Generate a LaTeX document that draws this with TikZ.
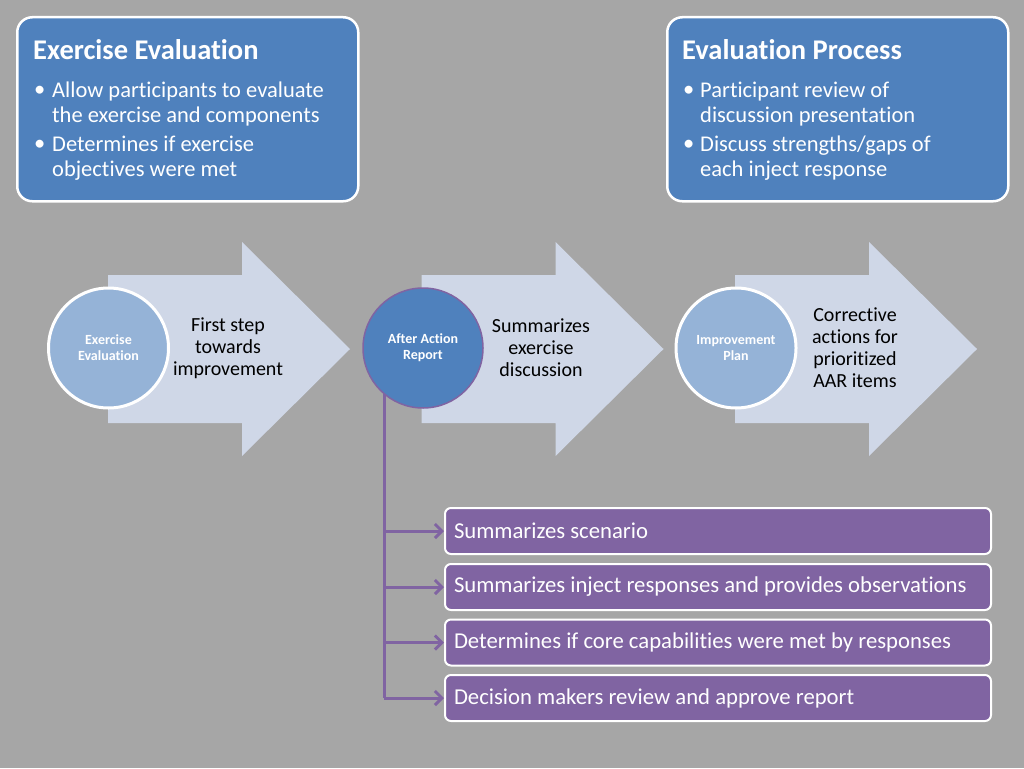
\documentclass[tikz,border=0pt]{standalone}
\usepackage{fontspec}
\setmainfont{Carlito}[Ligatures={NoCommon}]
\usetikzlibrary{shapes, arrows.meta, positioning, calc}
\definecolor{bggray}{HTML}{A6A6A6}
\definecolor{panelblue}{HTML}{4F81BD}
\definecolor{circblue}{HTML}{95B3D7}
\definecolor{arrowfill}{HTML}{CFD7E7}
\definecolor{aarpurple}{HTML}{8064A2}

\tikzset{
  panel/.style={draw=white, line width=2.5pt, fill=panelblue, rounded corners=15pt,
    anchor=north west, minimum width=341pt, minimum height=184pt, inner sep=0pt},
  ptitle/.style={anchor=west, inner sep=0pt, text=white, font=\fontsize{28.5}{32}\selectfont\bfseries},
  pbullet/.style={anchor=west, inner sep=0pt, text=white, align=left, font=\fontsize{22.5}{25}\selectfont},
  stepcirc/.style={circle, minimum size=120pt, inner sep=0pt, outer sep=0pt, line width=3pt,
    draw=white, fill=circblue, text=white, align=center, font=\fontsize{14}{16}\selectfont\bfseries},
  steptext/.style={align=center, inner sep=0pt, font=\fontsize{20}{22}\selectfont},
  itembox/.style={draw=white, line width=2pt, fill=aarpurple, rounded corners=6pt, anchor=north west,
    minimum width=546pt, minimum height=46pt, inner xsep=9pt, text width=528pt, align=flush left,
    text=white, font=\fontsize{22.7}{24}\selectfont},
  link/.style={draw=aarpurple, line width=3pt}
}

\begin{document}
\begin{tikzpicture}[x=1pt, y=-1pt]
\fill[bggray] (0,0) rectangle (1024,768);

\node[panel] (ee) at (16,16) {};
\node[ptitle] (eetitle) at (33,50) {Exercise Evaluation};
\node[pbullet] (eeb1) at (34,91) {•};
\node[pbullet] (eet1) at (52,104) {Allow participants to evaluate\\the exercise and components};
\node[pbullet] (eeb2) at (34,145) {•};
\node[pbullet] (eet2) at (52,158) {Determines if exercise\\objectives were met};

\node[panel] (ep) at (666,16) {};
\node[ptitle] (eptitle) at (682,50) {Evaluation Process};
\node[pbullet] (epb1) at (683,91) {•};
\node[pbullet] (ept1) at (700,104) {Participant review of\\discussion presentation};
\node[pbullet] (epb2) at (683,145) {•};
\node[pbullet] (ept2) at (700,158) {Discuss strengths/gaps of\\each inject response};

\foreach \dx in {0,313.5,627}
  \fill[arrowfill] ({108+\dx},275) -- ({242+\dx},275) -- ({242+\dx},242) -- ({350+\dx},349)
    -- ({242+\dx},456) -- ({242+\dx},423) -- ({108+\dx},423) -- cycle;

\node[stepcirc] (exev) at (108.5,348) {Exercise\\Evaluation};
\node[steptext] (exevtext) at (228,348) {First step\\towards\\improvement};
\node[stepcirc, fill=panelblue, draw=aarpurple, line width=1.5pt] (aar) at (423,348) {After Action\\Report};
\node[steptext] (aartext) at (541,348) {Summarizes\\exercise\\discussion};
\node[stepcirc] (ip) at (736,348) {Improvement\\Plan};
\node[steptext] (iptext) at (855,348) {Corrective\\actions for\\prioritized\\AAR items};

\node[itembox] (s1) at (444,507) {Summarizes scenario};
\node[itembox] (s2) at (444,563) {Summarizes inject responses and provides observations};
\node[itembox] (s3) at (444,618.5) {Determines if core capabilities were met by responses};
\node[itembox] (s4) at (444,674) {Decision makers review and approve report};

\draw[link] (aar.230) -- (aar.230 |- s4.west);
\foreach \s in {s1,s2,s3,s4}
  \draw[link, -{Straight Barb[length=7pt,width=14pt]}] (aar.230 |- \s.west) -- (\s.west);
\end{tikzpicture}
\end{document}
